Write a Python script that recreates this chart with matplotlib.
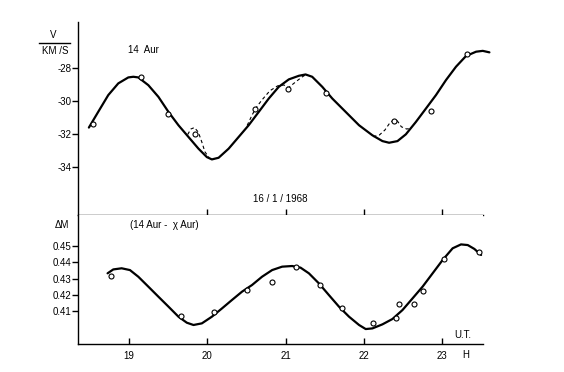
import matplotlib
matplotlib.use("Agg")
import matplotlib.pyplot as plt

plt.rcParams["font.family"] = ["Liberation Sans", "DejaVu Sans"]
plt.rcParams["axes.unicode_minus"] = False

# radial velocity of 14 Aur (km/s), smooth curve
v_t = [18.487, 18.606, 18.735, 18.863, 18.991, 19.055, 19.119, 19.247, 19.376, 19.504,
       19.632, 19.760, 19.888, 19.995, 20.059, 20.145, 20.273, 20.401, 20.529, 20.658,
       20.786, 20.914, 21.042, 21.171, 21.256, 21.341, 21.470, 21.598, 21.769, 21.940,
       22.111, 22.239, 22.324, 22.431, 22.538, 22.666, 22.794, 22.923, 23.051, 23.179,
       23.307, 23.436, 23.521, 23.606]
v_curve = [-31.63, -30.68, -29.66, -28.95, -28.59, -28.55, -28.59, -29.06, -29.77, -30.68,
           -31.49, -32.20, -32.91, -33.42, -33.56, -33.46, -32.91, -32.20, -31.49, -30.68,
           -29.87, -29.16, -28.71, -28.49, -28.41, -28.55, -29.16, -29.87, -30.68, -31.49,
           -32.10, -32.45, -32.55, -32.45, -32.04, -31.29, -30.48, -29.66, -28.75, -27.94,
           -27.29, -27.03, -26.98, -27.07]

# observed velocities
v_obs_t = [18.542, 19.149, 19.504, 19.837, 20.615, 21.034, 21.512, 22.388, 22.858, 23.316]
v_obs = [-31.43, -28.55, -30.82, -32.04, -30.48, -29.32, -29.52, -31.23, -30.64, -27.19]

# dashed deviations
d1_t = [19.75, 19.79, 19.835, 19.885, 19.93, 19.97, 20.02]
d1_v = [-32.05, -31.72, -31.63, -31.90, -32.50, -33.10, -33.43]
d2_t = [20.51, 20.57, 20.62, 20.70, 20.80, 20.90, 20.98, 21.04, 21.12, 21.20, 21.26]
d2_v = [-31.50, -30.90, -30.45, -29.95, -29.40, -29.10, -29.05, -29.20, -28.90, -28.60, -28.42]
d3_t = [22.12, 22.20, 22.27, 22.33, 22.38, 22.43, 22.48, 22.55, 22.59]
d3_v = [-32.18, -32.08, -31.78, -31.37, -31.17, -31.23, -31.58, -31.72, -31.67]

# magnitude difference (14 Aur - chi Aur)
m_t = [18.726, 18.799, 18.906, 19.012, 19.119, 19.247, 19.376, 19.504, 19.632, 19.739,
       19.824, 19.931, 20.059, 20.188, 20.316, 20.444, 20.572, 20.700, 20.829, 20.957,
       21.085, 21.192, 21.299, 21.427, 21.555, 21.683, 21.812, 21.940, 22.025, 22.111,
       22.239, 22.367, 22.495, 22.624, 22.752, 22.880, 23.008, 23.136, 23.243, 23.329,
       23.414, 23.500]
m_curve = [0.4332, 0.4356, 0.4363, 0.4352, 0.4311, 0.4250, 0.4188, 0.4127, 0.4065, 0.4028,
           0.4014, 0.4024, 0.4065, 0.4116, 0.4168, 0.4219, 0.4260, 0.4311, 0.4352, 0.4373,
           0.4377, 0.4367, 0.4332, 0.4270, 0.4198, 0.4127, 0.4065, 0.4014, 0.3989, 0.3993,
           0.4018, 0.4051, 0.4106, 0.4178, 0.4250, 0.4332, 0.4414, 0.4486, 0.4510, 0.4506,
           0.4482, 0.4445]
m_obs_t = [18.765, 19.662, 20.089, 20.508, 20.829, 21.136, 21.440, 21.726, 22.119, 22.410,
           22.453, 22.645, 22.752, 23.029, 23.478]
m_obs = [0.4317, 0.4069, 0.4096, 0.4229, 0.4281, 0.4369, 0.4260, 0.4116, 0.4024, 0.4059,
         0.4141, 0.4141, 0.4223, 0.4420, 0.4465]

hours = [19, 20, 21, 22, 23]
v_ticks = [-28, -30, -32, -34]
m_ticks = [0.45, 0.44, 0.43, 0.42, 0.41]

W, H = 564, 372
fig = plt.figure(figsize=(W / 100, H / 100), dpi=100)


def fx(px):
    return px / W


def fy(py):
    return 1 - py / H


ax1 = fig.add_axes([fx(78), fy(215), (483 - 78) / W, (215 - 22) / H])
ax2 = fig.add_axes([fx(78), fy(344), (483 - 78) / W, (344 - 215) / H])

for ax in (ax1, ax2):
    ax.set_xlim(18.348, 23.524)
    ax.spines["top"].set_visible(False)
    ax.spines["right"].set_visible(False)
    ax.spines["left"].set_linewidth(1.0)
    ax.spines["bottom"].set_linewidth(1.0)
    ax.xaxis.set_ticks_position("bottom")
    ax.yaxis.set_ticks_position("left")
    ax.tick_params(axis="y", direction="out", length=4, width=1.0, pad=0.5, labelsize=7)
    ax.tick_params(axis="x", direction="in", length=4, width=1.0, pad=5, labelsize=7)

# top panel
ax1.set_ylim(-36.93, -25.23)
ax1.plot(v_t, v_curve, color="black", lw=1.6, clip_on=False, solid_capstyle="round")
for tt, vv in [(d1_t, d1_v), (d2_t, d2_v), (d3_t, d3_v)]:
    ax1.plot(tt, vv, color="black", lw=0.8, ls=(0, (3, 2.5)))
ax1.plot(v_obs_t, v_obs, "o", mfc="white", mec="black", ms=3.6, mew=0.8, clip_on=False)
ax1.set_yticks(v_ticks)
ax1.set_yticklabels([str(v) for v in v_ticks])
ax1.set_xticks(hours[1:])
ax1.tick_params(axis="x", labelbottom=False)

# bottom panel
ax2.set_ylim(0.3897, 0.4691)
ax2.plot(m_t, m_curve, color="black", lw=1.6, clip_on=False, solid_capstyle="round")
ax2.plot(m_obs_t, m_obs, "o", mfc="white", mec="black", ms=3.6, mew=0.8, clip_on=False)
ax2.set_yticks(m_ticks)
ax2.set_yticklabels(["%.2f" % m for m in m_ticks])
ax2.set_xticks(hours)
ax2.set_xticklabels([str(h) for h in hours])

# labels
fs = 7
fig.text(fx(53), fy(35), "V", fontsize=fs, ha="center", va="center")
fig.add_artist(plt.Line2D([fx(39), fx(70)], [fy(43), fy(43)], color="black", lw=1.0))
fig.text(fx(55), fy(51), "KM /S", fontsize=fs, ha="center", va="center")
fig.text(fx(128), fy(50), "14  Aur", fontsize=fs, ha="left", va="center")
fig.text(fx(280), fy(199), "16 / 1 / 1968", fontsize=fs, ha="center", va="center")
fig.text(fx(55), fy(225), "ΔM", fontsize=fs, ha="left", va="center")
fig.text(fx(130), fy(225), "(14 Aur -  χ Aur)", fontsize=fs, ha="left", va="center")
fig.text(fx(463), fy(335), "U.T.", fontsize=fs, ha="center", va="center")
fig.text(fx(466), fy(355), "H", fontsize=fs, ha="center", va="center")

fig.savefig("out.png", dpi=100, facecolor="white")
